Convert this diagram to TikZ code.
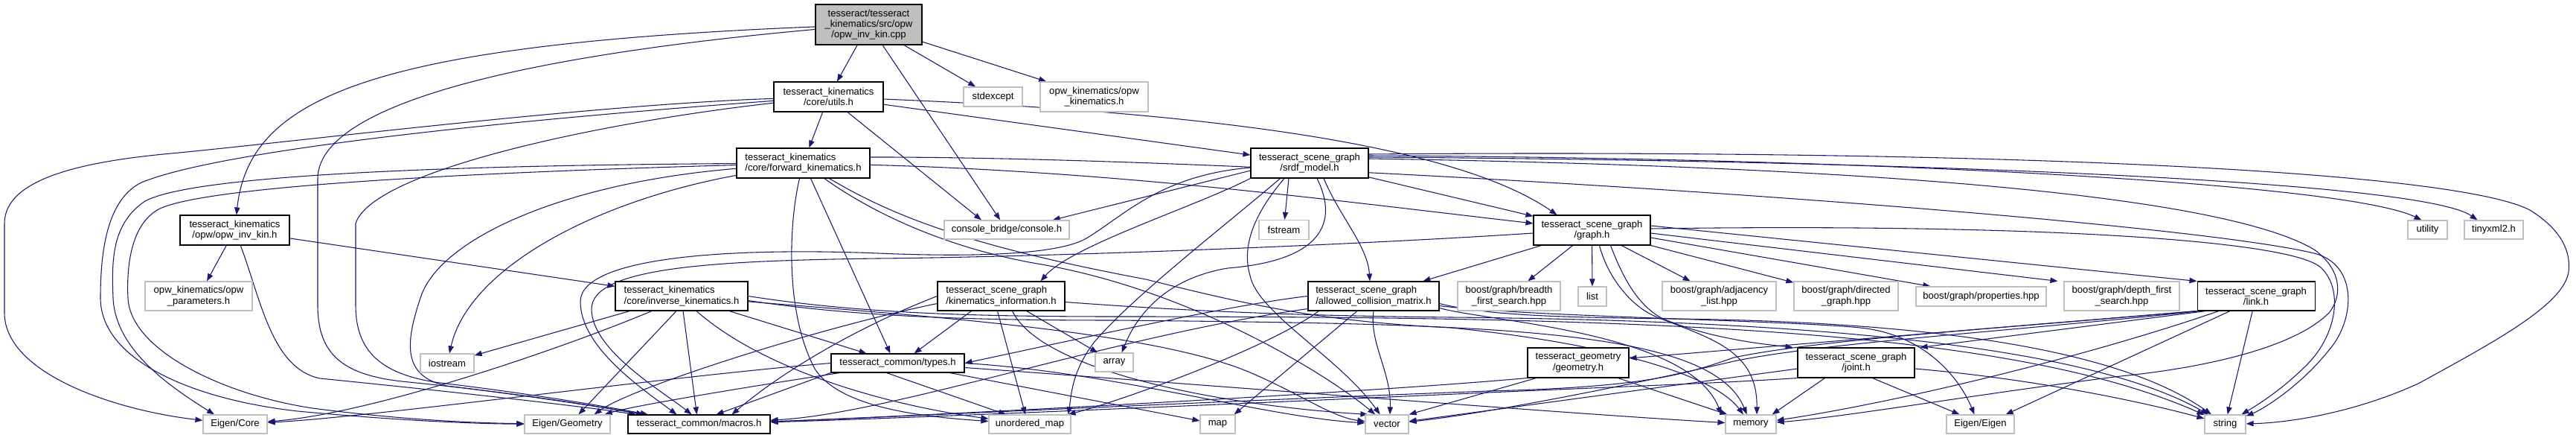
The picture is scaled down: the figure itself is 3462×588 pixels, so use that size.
\documentclass[tikz,border=0pt]{standalone}
\usepackage{fontspec}
\setmainfont{Liberation Sans}
\usetikzlibrary{arrows.meta,calc,backgrounds}
\definecolor{edgec}{HTML}{191970}
\definecolor{greyb}{HTML}{BFBFBF}
\newcommand\nodefont{\fontsize{9.8}{10.7}\selectfont}
\tikzset{
  nb/.style={draw=black, line width=0.8pt, fill=white, inner sep=0pt, font=\nodefont, align=center},
  gb/.style={draw=greyb, line width=0.9pt, fill=white, inner sep=0pt, font=\nodefont, align=center},
  edge/.style={draw=edgec, line width=0.8pt, -{Triangle[length=7.5pt,width=5.5pt]}},
  bw/.style={minimum width=#1*0.75pt},
  bh/.style={minimum height=#1*0.75pt},
}
\begin{document}
\begin{tikzpicture}[x=0.75pt,y=-0.75pt]
\useasboundingbox (0,0) rectangle (3462,588);
% ---------- nodes ----------
\node[nb, fill=greyb, bw=143, bh=54] (root) at (1167.5,33) {tesseract/tesseract\\\_kinematics/src/opw\\/opw\_inv\_kin.cpp};
\node[nb,bw=147,bh=40] (utils) at (1113.5,130) {tesseract\_kinematics\\/core/utils.h};
\node[gb,bw=79,bh=26] (stdexcept) at (1334.5,130) {stdexcept};
\node[gb,bw=145,bh=40] (opwkin) at (1470.5,130) {opw\_kinematics/opw\\\_kinematics.h};
\node[nb,bw=179,bh=40,align=left] (fk) at (1079.5,219) {tesseract\_kinematics\\/core/forward\_kinematics.h};
\node[nb,bw=158,bh=40] (srdf) at (1760,219) {tesseract\_scene\_graph\\/srdf\_model.h};
\node[nb,bw=147,bh=40] (opwinv) at (315.5,309) {tesseract\_kinematics\\/opw/opw\_inv\_kin.h};
\node[gb,bw=168,bh=25] (console) at (1353,308.5) {console\_bridge/console.h};
\node[gb,bw=67,bh=26] (fstream) at (1725.5,308.5) {fstream};
\node[nb,bw=157,bh=40] (graph) at (2139.5,309) {tesseract\_scene\_graph\\/graph.h};
\node[gb,bw=53,bh=25] (utility) at (3262.5,308.5) {utility};
\node[gb,bw=79,bh=25] (tinyxml) at (3351.5,308.5) {tinyxml2.h};
\node[gb,bw=144,bh=39] (opwparams) at (267,397.5) {opw\_kinematics/opw\\\_parameters.h};
\node[nb,bw=178,bh=39,align=left] (ik) at (916,397.5) {tesseract\_kinematics\\/core/inverse\_kinematics.h};
\node[nb,bw=171,bh=39,align=left] (kininfo) at (1345.5,397.5) {tesseract\_scene\_graph\\/kinematics\_information.h};
\node[nb,bw=176,bh=39,align=left] (acm) at (1846,397.5) {tesseract\_scene\_graph\\/allowed\_collision\_matrix.h};
\node[gb,bw=138,bh=39] (breadth) at (2028,397.5) {boost/graph/breadth\\\_first\_search.hpp};
\node[gb,bw=38,bh=26] (list) at (2140,398) {list};
\node[gb,bw=153,bh=39] (adj) at (2310.5,397.5) {boost/graph/adjacency\\\_list.hpp};
\node[gb,bw=140,bh=39] (directed) at (2481,397.5) {boost/graph/directed\\\_graph.hpp};
\node[gb,bw=175,bh=26] (props) at (2662.5,398) {boost/graph/properties.hpp};
\node[gb,bw=155,bh=39] (depth) at (2851.5,397.5) {boost/graph/depth\_first\\\_search.hpp};
\node[nb,bw=158,bh=39] (link) at (3032,397.5) {tesseract\_scene\_graph\\/link.h};
\node[gb,bw=72,bh=25] (iostream) at (601,487.5) {iostream};
\node[nb,bw=179,bh=25] (types) at (1206.5,487.5) {tesseract\_common/types.h};
\node[gb,bw=51,bh=25] (array) at (1497.5,486.5) {array};
\node[nb,bw=136,bh=40] (geometry) at (2121,487) {tesseract\_geometry\\/geometry.h};
\node[nb,bw=157,bh=40] (joint) at (2494.5,487) {tesseract\_scene\_graph\\/joint.h};
\node[gb,bw=86,bh=25] (ecore) at (316,569.5) {Eigen/Core};
\node[gb,bw=115,bh=25] (egeom) at (762.5,569.5) {Eigen/Geometry};
\node[nb,bw=191,bh=25] (macros) at (939.5,569.5) {tesseract\_common/macros.h};
\node[gb,bw=110,bh=25] (umap) at (1384,569.5) {unordered\_map};
\node[gb,bw=47,bh=25] (map) at (1636.5,569.5) {map};
\node[gb,bw=58,bh=25] (vector) at (1864,569.5) {vector};
\node[gb,bw=68,bh=25] (memory) at (2353,569.5) {memory};
\node[gb,bw=91,bh=25] (eeigen) at (2661.5,569.5) {Eigen/Eigen};
\node[gb,bw=55,bh=25] (string) at (2990.5,569.5) {string};
% ---------- edges ----------
\begin{pgfonlayer}{background}
\fill[white] (0,0) rectangle (3462,588);
% root
\draw[edge] (root) -- (utils);
\draw[edge] (root) .. controls (500,60) and (335,130) .. (opwinv);
\draw[edge] (root) -- (stdexcept);
\draw[edge] (root) -- (opwkin);
\draw[edge] (root) -- (console);
\draw[edge] (root) .. controls (700,75) and (427,140) .. (427,240) -- (427,410) .. controls (427,475) and (460,503) .. (540,512) .. controls (700,528) and (800,545) .. (macros);
% opw_inv_kin.h
\draw[edge] (opwinv) -- (opwparams);
\draw[edge] (opwinv) -- (ik);
\draw[edge] (opwinv) .. controls (350,400) and (365,495) .. (430,508) .. controls (600,525) and (780,545) .. (macros);
% utils
\draw[edge] (utils) -- (fk);
\draw[edge] (utils) -- (srdf);
\draw[edge] (utils) .. controls (1600,150) and (1950,190) .. ($(graph.north)+(-47,0)$);
\draw[edge] (utils) -- ($(console.north)+(-34,0)$);
\draw[edge] (utils) .. controls (800,140) and (400,190) .. (230,206) .. controls (110,217) and (6,240) .. (6,300) -- (6,420) .. controls (6,500) and (150,550) .. (ecore);
\draw[edge] (utils) .. controls (700,160) and (300,200) .. (190,245) .. controls (150,265) and (135,320) .. (135,400) .. controls (135,480) and (250,535) .. (400,552) .. controls (550,566) and (650,569) .. (egeom);
\draw[edge] (utils) .. controls (800,165) and (500,230) .. (478,300) -- (478,410) .. controls (478,470) and (510,505) .. (600,515) .. controls (700,527) and (800,543) .. (macros);
% forward_kinematics
\draw[edge] (fk) .. controls (1500,230) and (1800,270) .. (graph);
\draw[edge] ($(fk.south)+(10,0)$) -- ($(types.north)+(-10,0)$);
\draw[edge] (fk) .. controls (800,270) and (630,360) .. (iostream);
\draw[edge] (fk) .. controls (600,222) and (260,235) .. (195,270) .. controls (150,300) and (150,350) .. (152,400) .. controls (155,470) and (230,520) .. ($(ecore.north)+(-28,0)$);
\draw[edge] (fk) .. controls (620,232) and (280,250) .. (215,280) .. controls (175,300) and (170,360) .. (172,400) .. controls (175,470) and (300,530) .. (420,548) .. controls (550,565) and (650,568) .. (egeom);
\draw[edge] (fk) .. controls (760,245) and (590,320) .. (565,400) .. controls (545,460) and (540,505) .. (600,518) .. controls (700,530) and (800,545) .. (macros);
\draw[edge] (fk) .. controls (1060,300) and (1055,420) .. (1095,495) .. controls (1130,550) and (1250,560) .. (umap);
\draw[edge] (fk) .. controls (1150,270) and (1250,330) .. (1400,355) .. controls (1600,390) and (1780,500) .. (vector);
\draw[edge] (fk) .. controls (1200,290) and (1300,330) .. (1540,375) .. controls (1680,410) and (1780,432) .. (1950,440) .. controls (2150,460) and (2300,500) .. (memory);
\draw[edge] ($(fk.east)+(0,-8)$) .. controls (1700,210) and (2900,290) .. (3110,340) .. controls (3170,355) and (3165,430) .. (3130,470) .. controls (3090,520) and (3040,550) .. (string);
% inverse_kinematics
\draw[edge] ($(ik.south)+(64,0)$) -- ($(types.north)+(-42,0)$);
\draw[edge] ($(ik.south west)+(20,0)$) -- (iostream);
\draw[edge] ($(ik.south)+(-40,0)$) .. controls (750,470) and (500,555) .. (ecore);
\draw[edge] ($(ik.south)+(-7,0)$) -- ($(egeom.north)+(15,0)$);
\draw[edge] ($(ik.south)+(2,0)$) -- ($(macros.north)+(-3,0)$);
\draw[edge] ($(ik.south)+(20,0)$) .. controls (1030,500) and (1200,545) .. (umap);
\draw[edge] (ik) .. controls (1250,425) and (1550,445) .. (1680,500) .. controls (1750,530) and (1790,560) .. (vector);
\draw[edge] (ik.east) .. controls (1150,420) and (1300,425) .. (1500,425) .. controls (2200,425) and (2700,440) .. (string);
\draw[edge] ($(ik.east)+(0,6)$) .. controls (1150,425) and (1300,430) .. (1500,430) .. controls (2000,435) and (2300,440) .. (memory);
% kinematics_information
\draw[edge] ($(kininfo.south)+(-40,0)$) -- ($(types.north)+(22,0)$);
\draw[edge] (kininfo.west) .. controls (1150,440) and (1050,500) .. ($(macros.north east)+(-52,0)$);
\draw[edge] ($(kininfo.west)+(0,10)$) .. controls (1100,440) and (850,520) .. ($(egeom.north east)+(-22,0)$);
\draw[edge] ($(kininfo.south)+(-5,0)$) -- ($(umap.north)+(-6,0)$);
\draw[edge] (kininfo) -- (array);
\draw[edge] ($(kininfo.south)+(15,0)$) .. controls (1400,500) and (1650,545) .. ($(vector.north west)+(4,0)$);
\draw[edge] ($(kininfo.east)+(0,8)$) .. controls (1600,418) and (1750,424) .. (1950,426) .. controls (2400,430) and (2800,460) .. (string);
% types
\draw[edge] (types.south west) -- ($(macros.north east)+(-73,0)$);
\draw[edge] (types.west) .. controls (900,505) and (500,560) .. (ecore);
\draw[edge] ($(types.south west)+(12,0)$) .. controls (1000,520) and (850,545) .. ($(egeom.north east)+(-8,0)$);
\draw[edge] ($(types.south)+(-15,0)$) -- ($(umap.north)+(-32,0)$);
\draw[edge] ($(types.south east)+(-20,0)$) -- (map);
\draw[edge] (types.east) .. controls (1500,500) and (1700,560) .. (vector);
\draw[edge] ($(types.east)+(0,6)$) .. controls (1600,515) and (2100,555) .. (memory);
% srdf_model
\draw[edge] (srdf) -- (graph);
\draw[edge] ($(srdf.south)+(19,0)$) .. controls (1800,290) and (1838,330) .. ($(acm.north)+(-5,0)$);
\draw[edge] (srdf.south west) .. controls (1600,280) and (1440,330) .. ($(kininfo.north)+(53,0)$);
\draw[edge] ($(srdf.west)+(0,10)$) -- ($(console.north east)+(-23,0)$);
\draw[edge] ($(srdf.south)+(-28,0)$) -- ($(fstream.north)+(1,0)$);
\draw[edge] ($(srdf.south)+(10,0)$) .. controls (1800,300) and (1775,350) .. (1650,360) .. controls (1560,375) and (1525,430) .. ($(array.north)+(10,0)$);
\draw[edge] ($(srdf.south)+(-34,0)$) .. controls (1700,270) and (1665,320) .. (1680,370) .. controls (1690,420) and (1800,480) .. (vector);
\draw[edge] ($(srdf.south west)+(40,0)$) .. controls (1650,300) and (1520,400) .. (1470,460) .. controls (1440,500) and (1440,530) .. ($(umap.north east)+(-4,0)$);
\draw[edge] ($(srdf.west)+(0,6)$) .. controls (1560,235) and (1510,290) .. (1460,320) .. controls (1420,343) and (1300,345) .. (1180,340) .. controls (980,332) and (780,345) .. (780,405) .. controls (780,465) and (860,520) .. ($(macros.north)+(-30,0)$);
\draw[edge] ($(srdf.east)+(0,-12)$) .. controls (2700,200) and (3300,230) .. (3400,282) .. controls (3445,310) and (3455,340) .. (3452,365) .. controls (3445,410) and (3350,460) .. (3250,515) .. controls (3150,560) and (3060,568) .. (string);
\draw[edge] ($(srdf.east)+(0,-6)$) .. controls (2600,225) and (3000,270) .. (3110,335) .. controls (3145,360) and (3150,395) .. (3130,420) .. controls (3080,470) and (2950,495) .. (2850,505) .. controls (2650,530) and (2480,560) .. (memory);
\draw[edge] ($(srdf.east)+(0,-10)$) .. controls (2500,212) and (3150,245) .. ($(utility.north)+(-8,0)$);
\draw[edge] ($(srdf.east)+(0,-8)$) .. controls (2500,215) and (3250,240) .. ($(tinyxml.north)+(-22,0)$);
% graph
\draw[edge] (graph) -- (acm);
\draw[edge] (graph) -- (breadth);
\draw[edge] (graph) -- (list);
\draw[edge] (graph) -- (adj);
\draw[edge] (graph) -- (directed);
\draw[edge] ($(graph.east)+(0,10)$) -- ($(props.north west)+(20,0)$);
\draw[edge] ($(graph.east)+(0,4)$) -- ($(depth.north west)+(-8,0)$);
\draw[edge] ($(graph.east)+(0,-6)$) -- (link.north west);
\draw[edge] ($(graph.south)+(25,0)$) .. controls (2180,370) and (2200,410) .. (2235,428) .. controls (2300,455) and (2370,462) .. ($(joint.north west)+(-6,0)$);
\draw[edge] ($(graph.west)+(0,4)$) .. controls (1800,330) and (1400,345) .. (1180,347) .. controls (950,350) and (795,360) .. (795,415) .. controls (795,470) and (890,525) .. ($(macros.north)+(-10,0)$);
\draw[edge] ($(graph.east)+(0,-2)$) .. controls (2700,300) and (3080,320) .. (3120,360) .. controls (3150,390) and (3140,450) .. (3100,490) .. controls (3070,520) and (3040,540) .. (string);
\draw[edge] ($(graph.south)+(10,0)$) .. controls (2160,370) and (2190,410) .. (2225,425) .. controls (2300,455) and (2362,470) .. ($(memory.north)+(8,0)$);
% allowed_collision_matrix
\draw[edge] (acm.west) .. controls (1650,410) and (1450,455) .. (types.east);
\draw[edge] ($(acm.south west)+(0,-3)$) .. controls (1500,450) and (1200,555) .. (macros);
\draw[edge] ($(acm.south west)+(15,0)$) .. controls (1700,470) and (1500,540) .. (umap);
\draw[edge] ($(acm.south)+(-22,0)$) -- ($(map.north east)+(-2,0)$);
\draw[edge] (acm.south) .. controls (1840,460) and (1870,500) .. ($(vector.north)+(4,0)$);
\draw[edge] ($(acm.east)+(0,10)$) .. controls (2000,424) and (2100,426) .. (2250,428) .. controls (2600,432) and (2850,470) .. (string);
\draw[edge] ($(acm.east)+(0,16)$) .. controls (2000,432) and (2270,445) .. ($(memory.north west)+(-5,0)$);
\draw[edge] ($(acm.east)+(0,13)$) .. controls (2050,425) and (2400,430) .. (2500,440) .. controls (2580,448) and (2630,500) .. ($(eeigen.north)+(-8,0)$);
% link
\draw[edge] (link.south west) -- ($(geometry.east)+(0,-6)$);
\draw[edge] ($(link.south west)+(12,0)$) -- ($(joint.north east)+(7,0)$);
\draw[edge] (link.south west) .. controls (2700,440) and (2450,455) .. (2330,480) .. controls (2260,505) and (2200,520) .. (2000,525) .. controls (1600,540) and (1200,560) .. (macros);
\draw[edge] (link) -- (string);
\draw[edge] ($(link.south west)+(5,0)$) .. controls (2700,445) and (2450,460) .. (2330,485) .. controls (2200,515) and (2000,555) .. (vector);
\draw[edge] ($(link.south)+(-50,0)$) .. controls (2800,480) and (2550,540) .. (memory);
\draw[edge] ($(link.south)+(-35,0)$) -- ($(eeigen.north east)+(-12,0)$);
% joint
\draw[edge] (joint.south west) .. controls (2300,515) and (2200,518) .. (2000,527) .. controls (1600,545) and (1200,562) .. (macros);
\draw[edge] ($(joint.west)+(0,8)$) -- (vector);
\draw[edge] ($(joint.south)+(-42,0)$) -- ($(memory.north east)+(-6,0)$);
\draw[edge] ($(joint.east)+(0,8)$) .. controls (2750,510) and (2900,545) .. (string);
\draw[edge] ($(joint.south)+(22,0)$) -- ($(eeigen.north)+(-28,0)$);
% geometry
\draw[edge] (geometry.south west) .. controls (1800,530) and (1200,560) .. (macros);
\draw[edge] ($(geometry.south west)+(12,0)$) -- (vector.north east);
\draw[edge] ($(geometry.south east)+(-15,0)$) -- ($(memory.north west)+(3,0)$);
\end{pgfonlayer}
\end{tikzpicture}
\end{document}
